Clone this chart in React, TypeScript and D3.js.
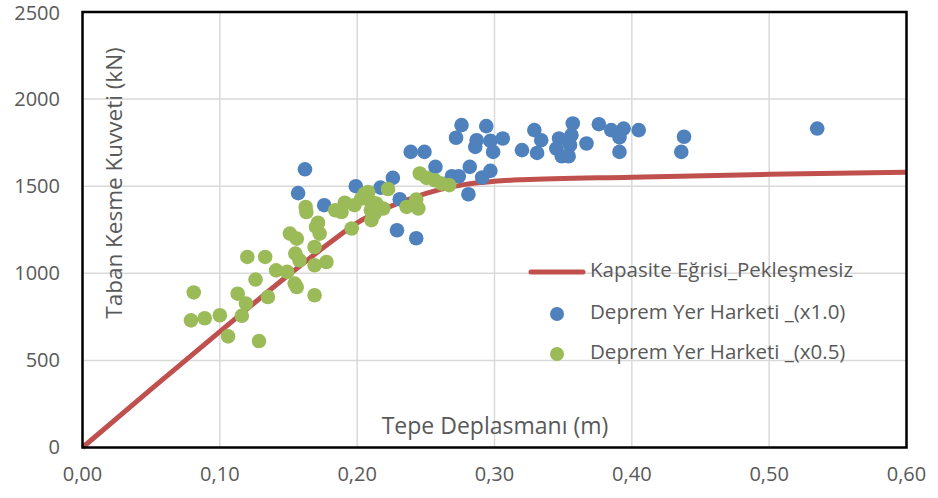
import React from "react";
import * as d3 from "d3";

// kapasite egrisi (pushover)
const capX = [0, 0.05, 0.1, 0.15, 0.18, 0.2, 0.22, 0.24, 0.26, 0.28, 0.3, 0.32, 0.4, 0.5, 0.6];
const capY = [0, 335, 665, 990, 1175, 1290, 1370, 1432, 1480, 1512, 1528, 1537, 1552, 1568, 1580];

// deprem yer hareketi x1.0
const blueX = [0.162, 0.157, 0.176, 0.199, 0.217, 0.226, 0.231, 0.229, 0.243, 0.239, 0.249, 0.257, 0.269, 0.274, 0.272, 0.276, 0.282, 0.281, 0.286, 0.287, 0.291, 0.294, 0.297, 0.297, 0.299, 0.306, 0.32, 0.329, 0.334, 0.331, 0.347, 0.345, 0.349, 0.354, 0.356, 0.357, 0.355, 0.367, 0.376, 0.385, 0.394, 0.391, 0.391, 0.405, 0.438, 0.436, 0.535];
const blueY = [1597, 1460, 1391, 1500, 1492, 1548, 1425, 1247, 1201, 1697, 1697, 1611, 1557, 1557, 1778, 1851, 1611, 1454, 1726, 1764, 1550, 1845, 1760, 1588, 1697, 1774, 1707, 1822, 1764, 1691, 1774, 1716, 1672, 1672, 1793, 1860, 1736, 1745, 1856, 1822, 1831, 1780, 1697, 1822, 1784, 1697, 1831];

// deprem yer hareketi x0.5
const greenX = [0.079, 0.081, 0.089, 0.1, 0.106, 0.113, 0.116, 0.119, 0.12, 0.126, 0.1285, 0.133, 0.135, 0.141, 0.149, 0.151, 0.1545, 0.156, 0.155, 0.158, 0.156, 0.1625, 0.163, 0.169, 0.169, 0.169, 0.1715, 0.17, 0.1727, 0.1776, 0.184, 0.1886, 0.191, 0.196, 0.198, 0.203, 0.2055, 0.208, 0.21, 0.21, 0.214, 0.2128, 0.2104, 0.219, 0.2225, 0.236, 0.243, 0.2445, 0.2456, 0.2505, 0.2566, 0.2614, 0.267];
const greenY = [730, 890, 742, 759, 638, 883, 756, 826, 1094, 964, 611, 1094, 864, 1017, 1008, 1228, 941, 1199, 1113, 1075, 921, 1381, 1352, 1151, 1046, 874, 1290, 1266, 1228, 1065, 1362, 1352, 1405, 1257, 1391, 1429, 1457, 1467, 1410, 1362, 1400, 1343, 1305, 1372, 1484, 1381, 1423, 1372, 1573, 1548, 1534, 1515, 1506];

const xTicks = [0, 0.1, 0.2, 0.3, 0.4, 0.5, 0.6];
const yTicks = [0, 500, 1000, 1500, 2000, 2500];

const legendNames = ["Kapasite Eğrisi_Pekleşmesiz", "Deprem Yer Harketi _(x1.0)", "Deprem Yer Harketi _(x0.5)"];

const W = 938;
const H = 498;
const font = "'Open Sans', sans-serif";
const txt = "#595959";

const App = () => {
  const x = d3.scaleLinear().domain([0, 0.6]).range([82.5, 906.5]);
  const y = d3.scaleLinear().domain([0, 2500]).range([447.5, 12]);
  const fmt = (v: number) => d3.format(".2f")(v).replace(".", ",");

  const capLine = d3
    .line<number>()
    .x((d, i) => x(capX[i]))
    .y(d => y(d))
    .curve(d3.curveMonotoneX);

  return (
    <svg width={W} height={H} style={{ position: "absolute", left: 0, top: 0, background: "#fff" }}>
      {/* grid */}
      {yTicks.map(t => (
        <line key={"gy" + t} x1={x(0)} x2={x(0.6)} y1={y(t)} y2={y(t)} stroke="#d9d9d9" strokeWidth={1.5} />
      ))}
      {xTicks.map(t => (
        <line key={"gx" + t} x1={x(t)} x2={x(t)} y1={y(0)} y2={y(2500)} stroke="#d9d9d9" strokeWidth={1.5} />
      ))}

      {/* axis titles, inside plot */}
      <text x={495} y={428} textAnchor="middle" dominantBaseline="middle" fill={txt} fontFamily={font} fontSize={23}>
        Tepe Deplasmanı (m)
      </text>
      <text
        transform={`translate(116,183) rotate(-90)`}
        textAnchor="middle"
        dominantBaseline="middle"
        fill={txt}
        fontFamily={font}
        fontSize={22.5}
      >
        Taban Kesme Kuvveti (kN)
      </text>

      {/* legend */}
      <g fontFamily={font} fontSize={20.5} fill={txt}>
        <line x1={531} x2={583} y1={272} y2={272} stroke="#C0504D" strokeWidth={5} strokeLinecap="round" />
        <text x={590} y={272} dominantBaseline="middle">{legendNames[0]}</text>
        <circle cx={557} cy={314} r={7} fill="#4F81BD" />
        <text x={590} y={314} dominantBaseline="middle">{legendNames[1]}</text>
        <circle cx={557} cy={354} r={7} fill="#9BBB59" />
        <text x={590} y={354} dominantBaseline="middle">{legendNames[2]}</text>
      </g>

      {/* capacity curve */}
      <path d={capLine(capY) || ""} fill="none" stroke="#C0504D" strokeWidth={5} />

      {/* scatter */}
      {blueX.map((v, i) => (
        <circle key={"b" + i} cx={x(v)} cy={y(blueY[i])} r={7.3} fill="#4F81BD" />
      ))}
      {greenX.map((v, i) => (
        <circle key={"g" + i} cx={x(v)} cy={y(greenY[i])} r={7.3} fill="#9BBB59" />
      ))}

      {/* frame */}
      <rect x={x(0)} y={y(2500)} width={x(0.6) - x(0)} height={y(0) - y(2500)} fill="none" stroke="#000" strokeWidth={2.5} />

      {/* tick labels */}
      {yTicks.map(t => (
        <text key={"ty" + t} x={60} y={Math.max(y(t) + 1.5, 15)} textAnchor="end" dominantBaseline="middle" fill={txt} fontFamily={font} fontSize={20}>
          {t}
        </text>
      ))}
      {xTicks.map(t => (
        <text key={"tx" + t} x={x(t)} y={476} textAnchor="middle" dominantBaseline="middle" fill={txt} fontFamily={font} fontSize={20}>
          {fmt(t)}
        </text>
      ))}
    </svg>
  );
};

export default App;
